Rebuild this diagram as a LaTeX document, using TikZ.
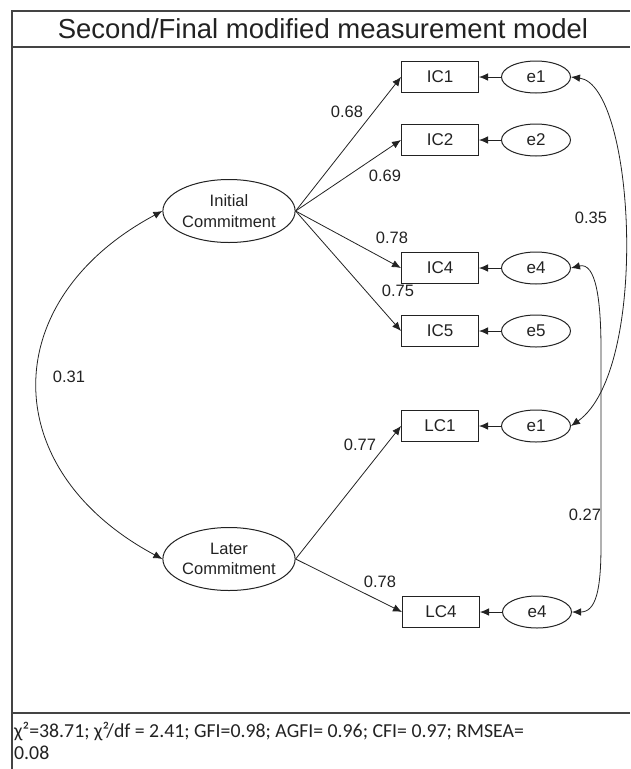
\documentclass[tikz,border=0pt]{standalone}
\usepackage{fontspec}
\setmainfont{Liberation Sans}
\newfontfamily\footfont{Carlito}
\usetikzlibrary{arrows.meta,shapes.geometric}
\definecolor{ink}{HTML}{222222}
\definecolor{frame}{HTML}{444444}
\begin{document}
\begin{tikzpicture}[x=1pt,y=-1pt,
  obs/.style={draw=ink, line width=1pt, minimum width=77pt, minimum height=31pt, inner sep=0pt, text=ink, font=\fontsize{17}{20}\selectfont},
  err/.style={draw=ink, ellipse, line width=1pt, minimum width=69pt, minimum height=32pt, inner sep=0pt, text=ink, font=\fontsize{17}{20}\selectfont},
  lat/.style={draw=ink, ellipse, line width=1pt, minimum width=125pt, minimum height=63pt, inner sep=0pt, align=center, text=ink, font=\fontsize{16.5}{20.5}\selectfont},
  load/.style={draw=ink, -{Latex[length=9pt,width=7.5pt]}, line width=0.8pt},
  cov/.style={draw=ink, {Latex[length=9pt,width=7.5pt]}-{Latex[length=9pt,width=7.5pt]}, line width=0.8pt},
  lbl/.style={font=\fontsize{16.5}{18}\selectfont, text=ink, inner sep=0pt},
  frameline/.style={draw=frame, line width=1.8pt}
]
\useasboundingbox (0,0) rectangle (630,769);
% frame
\draw[frameline] (12,769) -- (12,11) -- (630,11);
\draw[frameline] (12,47) -- (630,47);
\draw[frameline] (12,713) -- (630,713);
\node[font=\fontsize{27.5}{30}\selectfont, text=ink] (title) at (323,29) {Second/Final modified measurement model};

% latent
\node[lat] (ic) at (229,211) {Initial\\Commitment};
\node[lat] (lc) at (229,559) {Later\\Commitment};

% observed
\node[obs] (ic1) at (440,77) {IC1};
\node[obs] (ic2) at (440,140) {IC2};
\node[obs] (ic4) at (440,268) {IC4};
\node[obs] (ic5) at (440,331) {IC5};
\node[obs] (lc1) at (440,426) {LC1};
\node[obs] (lc4) at (441,612) {LC4};

% errors
\node[err] (e1a) at (536,77) {e1};
\node[err] (e2) at (536,140) {e2};
\node[err] (e4a) at (536,268) {e4};
\node[err] (e5) at (536,331) {e5};
\node[err] (e1b) at (536,426) {e1};
\node[err] (e4b) at (537,612) {e4};

% loadings
\draw[load] (ic.east) -- (ic1.west);
\draw[load] (ic.east) -- (ic2.west);
\draw[load] (ic.east) -- (ic4.west);
\draw[load] (ic.east) -- (ic5.west);
\draw[load] (lc.east) -- (lc1.west);
\draw[load] (lc.east) -- (lc4.west);

% error paths
\draw[load] (e1a) -- (ic1);
\draw[load] (e2) -- (ic2);
\draw[load] (e4a) -- (ic4);
\draw[load] (e5) -- (ic5);
\draw[load] (e1b) -- (lc1);
\draw[load] (e4b) -- (lc4);

% covariances
\draw[cov] (ic.west) .. controls (-4,300) and (-4,470) .. (lc.west);
\draw[cov] (e1a.east) .. controls (635,85) and (650,370) .. (e1b.east);
\draw[cov] (e4a.east) .. controls (596,262) and (601,300) .. (601,350) -- (601,545) .. controls (601,590) and (596,612) .. (e4b.east);

% labels
\node[lbl] (l68) at (347,112) {0.68};
\node[lbl] (l69) at (385,176) {0.69};
\node[lbl] (l78a) at (392,238) {0.78};
\node[lbl] (l75) at (398,291) {0.75};
\node[lbl] (l77) at (360,445) {0.77};
\node[lbl] (l78b) at (380,582) {0.78};
\node[lbl] (l31) at (69,377) {0.31};
\node[lbl] (l35) at (591,218) {0.35};
\node[lbl] (l27) at (585,515) {0.27};

% footer
\node[anchor=north west, align=left, inner sep=0pt, text=ink, font=\footfont\fontsize{19.8}{22}\selectfont] (fit) at (14,722)
  {χ²=38.71; χ²/df = 2.41; GFI=0.98; AGFI= 0.96; CFI= 0.97; RMSEA=\\0.08};
\end{tikzpicture}
\end{document}
